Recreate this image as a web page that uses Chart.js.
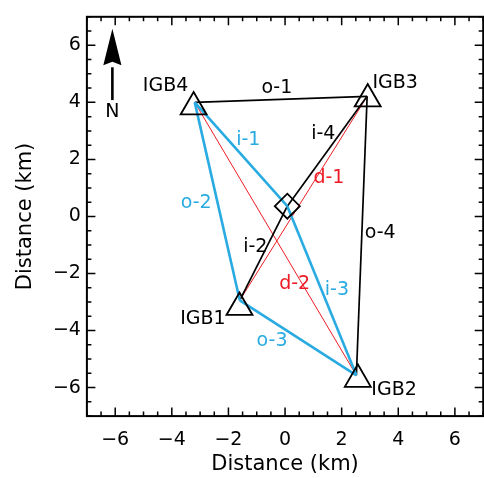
<!DOCTYPE html>
<html>
<head>
<meta charset="utf-8">
<script src="https://cdn.jsdelivr.net/npm/chart.js@4.4.0/dist/chart.umd.min.js"></script>
<style>
  html, body { margin: 0; padding: 0; background: #fff; overflow: hidden; }
  #wrap { width: 500px; height: 478px; }
</style>
</head>
<body>
<div id="wrap"><canvas id="chart" width="500" height="478"></canvas></div>
<script>
// Station markers (km)
const stationNames = ["IGB1", "IGB2", "IGB3", "IGB4"];
const stationX = [-1.61, 2.57, 2.92, -3.23];
const stationY = [-3.19, -5.71, 4.12, 3.84];
const stationLabelX = [-2.90, 3.85, 3.89, -4.22];
const stationLabelY = [-3.59, -6.09, 4.67, 4.57];

// Baseline end points: IGB1..IGB4, then the diamond (index 4)
const nodeX = [-1.60, 2.52, 2.90, -3.19, 0.08];
const nodeY = [-2.94, -5.57, 4.21, 4.00, 0.36];

// Baselines
const lineNames = ["o-1", "o-4", "i-4", "i-2", "i-1", "i-3", "o-2", "o-3", "d-1", "d-2"];
const lineFrom = [3, 2, 2, 4, 3, 4, 3, 0, 0, 3];
const lineTo = [2, 1, 4, 0, 4, 1, 0, 1, 2, 1];
const lineSet = [0, 0, 0, 0, 1, 1, 1, 1, 2, 2];
const lineLabelX = [-0.29, 3.36, 1.35, -1.05, -1.30, 1.83, -3.14, -0.46, 1.55, 0.34];
const lineLabelY = [4.50, -0.57, 2.90, -1.06, 2.69, -2.59, 0.47, -4.36, 1.34, -2.38];

// North arrow (km)
const northX = -6.10;
const northTail = 4.08;
const northHead = 5.30;
const northTip = 6.58;
const northHalfWidth = 0.32;
const northLabelY = 3.66;

const FONT = "DejaVu Sans";
const setColor = ["#000000", "#29abe2", "#ed1c24"];
const setWidth = [1.7, 2.6, 1.0];

const fmt = v => {
  if (Math.abs(v % 2) > 1e-9) return "";
  if (v === 0) return "0";
  return v < 0 ? "\u2212" + (-v) : String(v);
};

const datasets = [];
lineNames.forEach((name, i) => {
  datasets.push({
    label: name,
    data: [
      { x: nodeX[lineFrom[i]], y: nodeY[lineFrom[i]] },
      { x: nodeX[lineTo[i]], y: nodeY[lineTo[i]] }
    ],
    showLine: true,
    borderColor: setColor[lineSet[i]],
    borderWidth: setWidth[lineSet[i]],
    pointRadius: 0,
    order: 2 + (lineSet[i] === 1 ? 0 : 1)
  });
});
datasets.push({
  label: "stations",
  data: stationX.map((x, i) => ({ x, y: stationY[i] })),
  showLine: false,
  pointStyle: "triangle",
  pointRadius: 15,
  pointBorderWidth: 1.8,
  pointBorderColor: "#000",
  pointBackgroundColor: "rgba(0,0,0,0)",
  order: 0
});
datasets.push({
  label: "centre",
  data: [{ x: nodeX[4], y: nodeY[4] }],
  showLine: false,
  pointStyle: "rectRot",
  pointRadius: 12.5,
  pointBorderWidth: 1.8,
  pointBorderColor: "#000",
  pointBackgroundColor: "rgba(0,0,0,0)",
  order: 0
});

const decor = {
  id: "decor",
  afterDatasetsDraw(chart) {
    const { ctx, chartArea: a, scales: { x, y } } = chart;
    ctx.save();
    // frame
    ctx.strokeStyle = "#000";
    ctx.lineWidth = 2;
    ctx.strokeRect(a.left, a.top, a.right - a.left, a.bottom - a.top);
    // inward ticks on all four sides
    ctx.lineWidth = 1.5;
    ctx.beginPath();
    x.ticks.forEach(t => {
      const px = x.getPixelForValue(t.value);
      const len = Math.abs(t.value % 2) < 1e-9 ? 8.5 : 4.5;
      ctx.moveTo(px, a.bottom); ctx.lineTo(px, a.bottom - len);
      ctx.moveTo(px, a.top); ctx.lineTo(px, a.top + len);
    });
    y.ticks.forEach(t => {
      const py = y.getPixelForValue(t.value);
      const len = Math.abs(t.value % 2) < 1e-9 ? 8.5 : 4.5;
      ctx.moveTo(a.left, py); ctx.lineTo(a.left + len, py);
      ctx.moveTo(a.right, py); ctx.lineTo(a.right - len, py);
    });
    ctx.stroke();

    // labels
    ctx.font = "19px '" + FONT + "'";
    ctx.textAlign = "center";
    ctx.textBaseline = "middle";
    ctx.fillStyle = "#000";
    stationNames.forEach((n, i) => {
      ctx.fillText(n, x.getPixelForValue(stationLabelX[i]), y.getPixelForValue(stationLabelY[i]));
    });
    lineNames.forEach((n, i) => {
      ctx.fillStyle = setColor[lineSet[i]];
      ctx.fillText(n, x.getPixelForValue(lineLabelX[i]), y.getPixelForValue(lineLabelY[i]));
    });

    // north arrow
    const ax = x.getPixelForValue(northX);
    const hw = x.getPixelForValue(northX + northHalfWidth) - ax;
    ctx.fillStyle = "#000";
    ctx.strokeStyle = "#000";
    ctx.lineWidth = 2.6;
    ctx.beginPath();
    ctx.moveTo(ax, y.getPixelForValue(northTail));
    ctx.lineTo(ax, y.getPixelForValue(northHead) + 2);
    ctx.stroke();
    ctx.beginPath();
    ctx.moveTo(ax, y.getPixelForValue(northTip));
    ctx.lineTo(ax + hw, y.getPixelForValue(northHead));
    ctx.lineTo(ax, y.getPixelForValue(northHead + 0.12));
    ctx.lineTo(ax - hw, y.getPixelForValue(northHead));
    ctx.closePath();
    ctx.fill();
    ctx.fillText("N", ax, y.getPixelForValue(northLabelY));
    ctx.restore();
  }
};

const axisTicks = padding => ({
  stepSize: 0.5,
  autoSkip: false,
  maxRotation: 0,
  padding,
  color: "#000",
  font: { family: FONT, size: 19 },
  callback: fmt
});

// pin the plot box: no extra room for end labels
const noPad = s => { s.paddingTop = 0; s.paddingBottom = 0; s.paddingLeft = 0; s.paddingRight = 0; };

new Chart(document.getElementById("chart"), {
  type: "scatter",
  data: { datasets },
  options: {
    responsive: false,
    animation: false,
    events: [],
    layout: { padding: { top: 12.9, right: 10.6, left: 0, bottom: 0 } },
    plugins: { legend: { display: false }, tooltip: { enabled: false } },
    scales: {
      x: {
        type: "linear", min: -7, max: 7,
        afterFit: s => { s.height = 61.9; noPad(s); },
        grid: { display: false, drawTicks: false },
        border: { display: false },
        ticks: axisTicks(13),
        title: { display: true, text: "Distance (km)", color: "#000",
          font: { family: FONT, size: 21 }, padding: { top: 0, bottom: 1 } }
      },
      y: {
        type: "linear", min: -7, max: 7,
        afterFit: s => { s.width = 86.9; noPad(s); },
        grid: { display: false, drawTicks: false },
        border: { display: false },
        ticks: axisTicks(6),
        title: { display: true, text: "Distance (km)", color: "#000",
          font: { family: FONT, size: 21 }, padding: { top: 13.4, bottom: 0 } }
      }
    }
  },
  plugins: [decor]
});
</script>
</body>
</html>
